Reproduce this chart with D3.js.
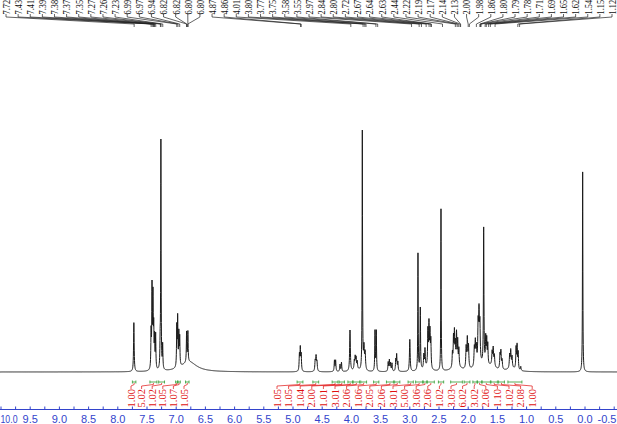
<!DOCTYPE html>
<html><head><meta charset="utf-8">
<script src="https://cdn.jsdelivr.net/npm/d3@7"></script>
<style>html,body{margin:0;padding:0;background:#fff;overflow:hidden}</style>
</head><body>
<svg id="c" width="617" height="424"></svg>
<script>
// ---- DATA ----
// peak positions (ppm), heights (intensity), half-widths (ppm)
const peakPpm = [7.725,7.43,7.414,7.398,7.385,7.37,7.352,7.275,7.262,7.232,6.99,6.975,6.955,6.94,6.822,6.80,6.78,
  4.89,4.875,4.86,4.62,4.605,4.59,4.29,4.27,4.195,4.17,4.024,3.95,3.935,3.92,3.90,3.813,3.785,3.765,3.596,3.574,
  3.37,3.35,3.33,3.305,3.24,3.225,3.205,3.0,2.86,2.82,2.76,2.74,2.69,2.672,2.655,2.64,2.466,
  2.27,2.252,2.236,2.22,2.20,2.18,2.16,2.035,2.015,1.995,1.895,1.878,1.86,1.83,1.815,1.80,1.735,1.70,1.683,1.665,
  1.59,1.572,1.552,1.455,1.44,1.42,1.29,1.272,1.25,1.18,1.163,1.145,1.10,0.04,
  3.92,2.72,2.2,1.78,1.6,1.25];
const peakHeight = [49,36,80,70,38,30,34,22,228,24,40,48,32,28,30,30,10,
  16,22,16,10,14,9,11,11,7,9,41,8,11,10,7,239,22,17,40,40,
  9,11,8,8,11,16,9,32,117,62,13,18,36,42,34,27,162,
  14,28,32,20,31,24,17,21,29,22,18,23,17,38,47,37,136,26,24,20,
  13,17,11,14,17,9,13,17,11,21,23,17,4,200,
  3,4,5,6,4,3];
const peakWidth = [0.006,0.005,0.005,0.005,0.005,0.005,0.005,0.005,0.004,0.005,0.005,0.005,0.005,0.005,0.005,0.005,0.16,
  0.006,0.006,0.006,0.007,0.007,0.007,0.006,0.006,0.006,0.006,0.007,0.006,0.006,0.006,0.006,0.004,0.008,0.008,0.005,0.005,
  0.006,0.006,0.006,0.006,0.006,0.006,0.006,0.007,0.004,0.005,0.006,0.006,0.006,0.006,0.006,0.006,0.004,
  0.006,0.006,0.006,0.006,0.006,0.006,0.006,0.007,0.007,0.007,0.007,0.007,0.007,0.007,0.007,0.007,0.005,0.006,0.006,0.006,
  0.007,0.007,0.007,0.007,0.007,0.007,0.007,0.007,0.007,0.006,0.006,0.006,0.006,0.004,
  0.05,0.06,0.08,0.12,0.08,0.08];

// peak-pick labels
const pickLabels = ["7.72","7.43","7.41","7.39","7.38","7.37","7.35","7.27","7.26","7.23","6.99","6.97","6.94","6.82","6.82","6.80","6.80",
  "4.87","4.86","4.01","3.80","3.77","3.75","3.58","3.55","2.97","2.84","2.80","2.72","2.67","2.64","2.63","2.44","2.22","2.19","2.17","2.14","2.13","2.00",
  "1.98","1.86","1.80","1.79","1.78","1.71","1.69","1.65","1.62","1.54","1.15","1.12"];

// integrals
const integralValues1 = ["1.00","5.02","1.02","1.05","1.07","1.05"];
const integralFrom1 = [7.75,7.45,7.30,7.01,6.97,6.84];
const integralTo1   = [7.69,7.33,7.20,6.975,6.93,6.78];
const integralValues2 = ["1.05","1.05","1.04","2.00","1.01","3.01","2.06","1.06","2.05","2.06","3.01","5.00","3.06","2.06","1.02","3.03","6.02","3.02","2.06","1.10","1.02","2.08","1.00"];
const integralFrom2 = [4.93,4.66,4.33,4.21,4.06,3.97,3.84,3.62,3.40,3.26,3.03,2.90,2.77,2.70,2.51,2.30,2.07,1.92,1.84,1.76,1.61,1.48,1.32];
const integralTo2   = [4.83,4.56,4.23,4.12,3.98,3.86,3.74,3.53,3.28,3.17,2.94,2.78,2.71,2.58,2.42,2.10,1.97,1.85,1.77,1.62,1.50,1.38,1.08];

// axis ticks
const tickValues = [10,9.5,9,8.5,8,7.5,7,6.5,6,5.5,5,4.5,4,3.5,3,2.5,2,1.5,1,0.5,0,-0.5];
const tickLabels = ["10.0","9.5","9.0","8.5","8.0","7.5","7.0","6.5","6.0","5.5","5.0","4.5","4.0","3.5","3.0","2.5","2.0","1.5","1.0","0.5","0.0","-0.5"];

// ---- DRAW ----
const W = 617, H = 424;
const svg = d3.select("#c");
const x = d3.scaleLinear().domain([10, 0]).range([1, 585]);
const y = d3.scaleLinear().domain([0, 250]).range([372, 122]);

// spectrum from peak list (Lorentzian line shapes)
const grid = d3.range(10.1, -0.62, -0.002).concat(peakPpm).sort((a,b)=>b-a);
const spec = grid.map(p => {
  let s = 0;
  for (let i = 0; i < peakPpm.length; i++) {
    const d = (p - peakPpm[i]) / peakWidth[i];
    s += peakHeight[i] / (1 + d*d);
  }
  return [p, s];
});
svg.append("path").datum(spec)
  .attr("fill","none").attr("stroke","#1a1a1a").attr("stroke-width",1)
  .attr("d", d3.line().x(d=>x(d[0])).y(d=>y(d[1])));

// axis
const blue = "#3344cc";
const axisY = 409.5;
const ax = svg.append("g").attr("transform",`translate(0,${axisY})`);
ax.append("line").attr("x1",0).attr("x2",W).attr("stroke",blue).attr("stroke-width",1);
const minor = d3.range(10.25, -0.8, -0.25);
ax.selectAll("line.t").data(minor).join("line").attr("class","t")
  .attr("x1",d=>x(d)).attr("x2",d=>x(d)).attr("y1",0).attr("y2",-3).attr("stroke",blue);
ax.selectAll("text").data(tickValues).join("text")
  .attr("x",d=>x(d))
  .attr("y",13.5)
  .attr("text-anchor","middle").attr("fill",blue)
  .attr("font-family","Liberation Sans, Arial, sans-serif").attr("font-size",11)
  .text((d,i)=>tickLabels[i])
  .each(function(d, i){
    const sel = d3.select(this);
    if (i === 0) {
      // leftmost label squeezed against the edge
      sel.attr("text-anchor","start").attr("x", 0.5)
        .attr("textLength", 17).attr("lengthAdjust","spacingAndGlyphs");
      return;
    }
    const w = this.getComputedTextLength();
    sel.attr("x", Math.min(W - w/2 - 0.5, x(d)));
  });

// peak-pick labels on top
const n = pickLabels.length;
const lx = i => 6 + (612 - 6) * i / (n - 1);
const topG = svg.append("g");
pickLabels.forEach((lab, i) => {
  const px = x(+lab), xx = lx(i);
  topG.append("path")
    .attr("d", `M${xx},14V17L${px},24V27`)
    .attr("fill","none").attr("stroke","#222").attr("stroke-width",0.7);
  topG.append("text")
    .attr("transform", `translate(${xx},14.5) rotate(-90) scale(0.76,1)`)
    .attr("dy","0.35em")
    .attr("font-family","Liberation Serif, Times New Roman, serif").attr("font-size",11)
    .attr("fill","#111").text(lab);
});

// integrals
const green = "#2e9a2e", red = "#e01010";
function drawIntegrals(vals, from, to, x0, step) {
  const g = svg.append("g");
  vals.forEach((v, i) => {
    const a = x(from[i]), b = x(to[i]), c = (a + b) / 2, lxp = x0 + step * i;
    g.append("path").attr("d", `M${a},380.5V383.5M${a},382H${b}M${b},380.5V383.5`)
      .attr("stroke",green).attr("stroke-width",0.8).attr("fill","none");
    g.append("path").attr("d", `M${c},383V384.5L${lxp},386V389`)
      .attr("stroke",red).attr("stroke-width",0.7).attr("fill","none");
    g.append("text")
      .attr("transform", `translate(${lxp},389) rotate(-90)`)
      .attr("dy","0.35em").attr("text-anchor","end")
      .attr("font-family","Liberation Serif, Times New Roman, serif").attr("font-size",10.5)
      .attr("fill",red).text(v);
  });
}
drawIntegrals(integralValues1, integralFrom1, integralTo1, 131, 10.6);
drawIntegrals(integralValues2, integralFrom2, integralTo2, 277, 11.6);
</script>
</body></html>
